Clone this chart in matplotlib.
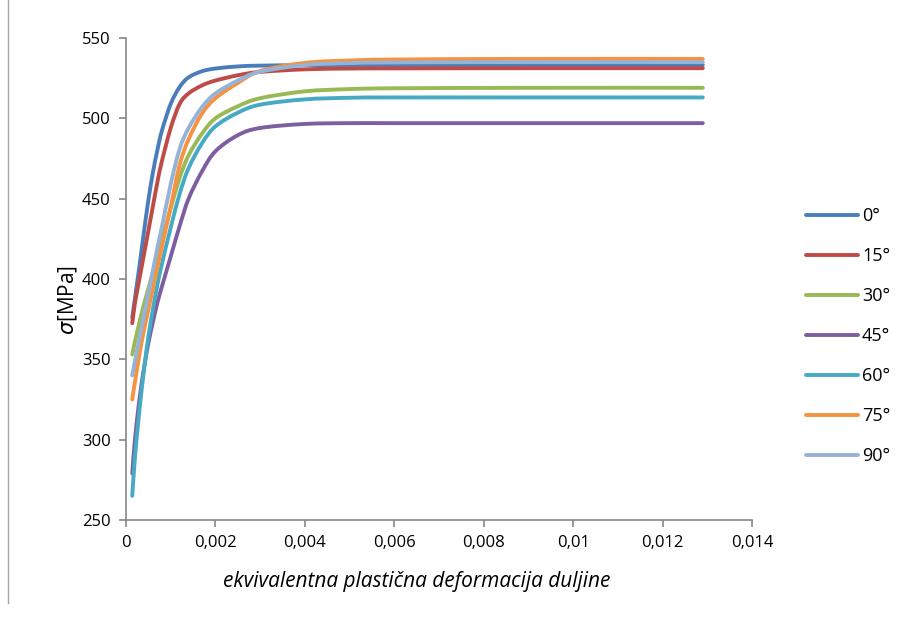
import matplotlib
matplotlib.use("Agg")
import matplotlib.pyplot as plt
from matplotlib.lines import Line2D
from matplotlib.path import Path
from matplotlib.patches import PathPatch

plt.rcParams['font.family'] = ['Open Sans', 'DejaVu Sans']

strain = [0.00014, 0.0002, 0.0003, 0.0004, 0.0005, 0.0006, 0.0007, 0.0008,
          0.001, 0.0012, 0.0014, 0.0017, 0.002, 0.0025, 0.003, 0.004,
          0.005, 0.006, 0.009, 0.0129]

s_0 = [376, 388, 408, 429, 449, 466, 480, 492, 509, 519.5, 525.5, 529.3, 531,
       532.3, 532.8, 533.1, 533.2, 533.2, 533.2, 533.2]
s_15 = [372.5, 385, 400, 415, 430, 445, 460, 473, 494, 509, 515.5, 520.5, 523.5,
        526.8, 528.9, 530.5, 531, 531.1, 531.2, 531.2]
s_30 = [353, 361, 373, 384, 394, 404, 414, 424, 444, 463, 477, 490.5, 500,
        507.5, 512.5, 516.8, 518.2, 518.7, 519, 519]
s_45 = [279, 300, 325, 344, 360, 373, 385, 395, 414, 433, 450, 467, 479.5,
        489.5, 494, 496.5, 497, 497, 497, 497]
s_60 = [265, 289, 318, 343, 364, 381, 396, 409, 432, 453, 469, 484.5, 495,
        503.5, 508.5, 511.8, 512.8, 513, 513, 513]
s_75 = [325, 336, 353, 368, 381, 394, 407, 420, 445, 471, 487, 503, 512.5,
        522, 529.5, 534.5, 536, 536.6, 537, 537]
s_90 = [340, 349, 363, 377, 391, 405, 419, 432, 459, 481, 494, 507, 515.5,
        523.5, 529, 533.2, 534.4, 534.8, 535, 535]

labels = ['0°', '15°', '30°', '45°', '60°', '75°', '90°']
series = [s_0, s_15, s_30, s_45, s_60, s_75, s_90]
colors = ['#4A7EBB', '#BE4B48', '#98B954', '#7D5FA0', '#46AAC5', '#F69240', '#95B3D7']

x_ticks = [0, 0.002, 0.004, 0.006, 0.008, 0.010, 0.012, 0.014]
x_ticklabels = ['0', '0,002', '0,004', '0,006', '0,008', '0,01', '0,012', '0,014']
y_ticks = [250, 300, 350, 400, 450, 500, 550]


def smooth_path(xs, ys):
    """Excel-like smoothed line: cubic Bezier through the points."""
    pts = list(zip(xs, ys))
    n = len(pts)
    verts = [pts[0]]
    codes = [Path.MOVETO]
    for i in range(n - 1):
        p0 = pts[i - 1] if i > 0 else pts[i]
        p1 = pts[i]
        p2 = pts[i + 1]
        p3 = pts[i + 2] if i + 2 < n else pts[i + 1]
        c1 = (p1[0] + (p2[0] - p0[0]) / 6, p1[1] + (p2[1] - p0[1]) / 6)
        c2 = (p2[0] - (p3[0] - p1[0]) / 6, p2[1] - (p3[1] - p1[1]) / 6)
        verts += [c1, c2, p2]
        codes += [Path.CURVE4] * 3
    return Path(verts, codes)


fig = plt.figure(figsize=(9.09, 6.19), dpi=100)
ax = fig.add_axes([126 / 909, 1 - 520 / 619, 626 / 909, 482 / 619])

handles = []
for lab, ys, c in zip(labels, series, colors):
    patch = PathPatch(smooth_path(strain, ys), fill=False, edgecolor=c, lw=2.8,
                      capstyle='round', joinstyle='round', transform=ax.transData)
    ax.add_patch(patch)
    handles.append(Line2D([], [], color=c, lw=2.8, solid_capstyle='round'))

ax.set_xlim(0, 0.014)
ax.set_ylim(250, 550)
ax.set_xticks(x_ticks)
ax.set_xticklabels(x_ticklabels)
ax.set_yticks(y_ticks)
for s in ['top', 'right']:
    ax.spines[s].set_visible(False)
for s in ['left', 'bottom']:
    ax.spines[s].set_color('#868686')
    ax.spines[s].set_linewidth(1.2)
ax.tick_params(axis='both', direction='out', length=5, width=1.2,
               color='#868686', labelsize=12, labelcolor='#000000', pad=6)

ax.set_ylabel(r'$\sigma$[MPa]', fontsize=15)
ax.yaxis.set_label_coords(-0.075, 0.456)
fig.text(417 / 909, 1 - 581 / 619, 'ekvivalentna plastična deformacija duljine',
         ha='center', va='center', fontsize=15, style='italic')

leg = fig.legend(handles=handles, labels=labels, loc='upper left',
                 bbox_to_anchor=(806 / 909, 1 - 207 / 619), frameon=False,
                 fontsize=13, handlelength=2.9, handletextpad=0.2,
                 labelspacing=1.22, borderpad=0, borderaxespad=0)

# chart area border (Excel style)
border_color = '#A6A6A6'
fig.add_artist(Line2D([8 / 909, 8 / 909], [1, 1 - 603 / 619],
                      transform=fig.transFigure, color=border_color, lw=1))

fig.savefig('out.png', dpi=100)
